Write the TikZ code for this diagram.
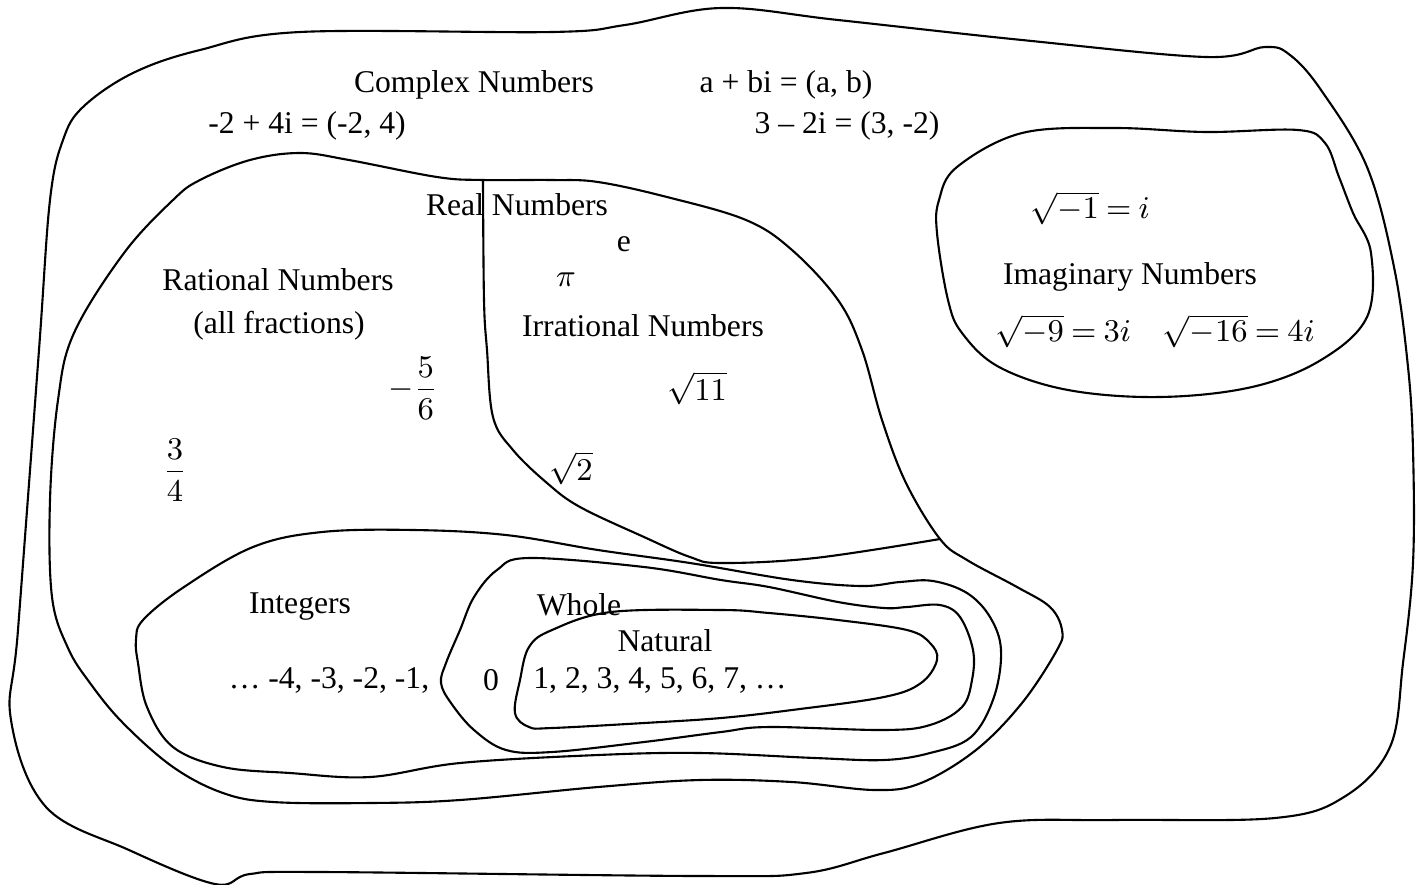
\documentclass[tikz,border=0pt]{standalone}
\usepackage{fontspec}
\setmainfont{Liberation Serif}
\usepackage{amsmath}
\DeclareSymbolFont{operators}{TU}{\rmdefault}{m}{n}
\thickmuskip=4mu plus 2mu
\usetikzlibrary{positioning}

\begin{document}
\begin{tikzpicture}[
  x=0.01cm, y=-0.01cm,
  font=\fontsize{9}{11}\selectfont,
  set/.style  = {draw, line width=0.6pt},
  lab/.style  = {inner sep=0pt},
  curve/.style = {smooth cycle, tension=0.6}]

\useasboundingbox (0,0) rectangle (1421,884);

% ---- the regions (freehand outlines) ---------------------------------------
% complex numbers
\draw[set] plot[curve] coordinates {
  (83,107) (133,73) (200,50) (300,32) (552,32) (625,25) (721,8) (838,20)
  (1022,40) (1206,57) (1265,47) (1290,55) (1321,90) (1367,167) (1394,267)
  (1408,367) (1413,450) (1413,563) (1403,663) (1390,747) (1344,797)
  (1275,818) (1114,820) (999,823) (884,853) (806,873) (700,876) (322,872)
  (250,874) (215,884) (129,850) (46,807) (11,720) (18,630) (39,350)
  (50,200) (63,140)};
% real numbers
\draw[set] plot[curve] coordinates {
  (74,333) (124,253) (173,200) (200,180) (250,160) (300,153) (349,160)
  (437,177) (483,180) (552,180) (598,182) (667,197) (746,220) (792,250)
  (838,300) (862,350) (882,420) (906,483) (940,539) (967,560)
  (1017,587) (1050,607) (1062,630) (1057,650) (1022,703) (976,750)
  (921,783) (875,790) (792,782) (700,780) (598,787) (460,800) (370,803)
  (273,802) (223,793) (173,767) (123,723) (90,683) (68,648) (52,597)
  (50,500) (58,400)};
% rational | irrational divider
\draw[set] plot[smooth, tension=0.6] coordinates {
  (483,180) (484,300) (487,350) (493,417) (513,450) (547,483) (580,507)
  (644,537) (690,557) (721,563) (815,558) (940,539)};
% integers
\draw[set] plot[curve] coordinates {
  (143,620) (184,587) (253,547) (322,532) (414,530) (506,535) (598,550)
  (690,563) (792,580) (861,586) (900,582) (933,581) (967,593) (990,617)
  (1001,650) (994,697) (971,737) (930,753) (884,760) (815,758) (700,753)
  (598,755) (460,763) (370,777) (290,773) (223,767) (173,747) (147,707)
  (138,663) (136,640)};
% whole numbers
\draw[set] plot[curve] coordinates {
  (529,558) (644,567) (721,580) (769,587) (838,602) (884,608) (907,607)
  (940,605) (960,617) (973,650) (972,680) (962,707) (930,725) (884,730)
  (769,727) (721,732) (644,742) (552,752) (506,750) (474,730) (451,703)
  (441,683) (446,663) (460,630) (474,597) (497,570)};
% natural numbers
\draw[set] plot[curve] coordinates {
  (611,612) (721,610) (769,613) (838,620) (907,630) (930,643) (937,660)
  (921,683) (884,697) (792,710) (721,718) (644,723) (552,728) (529,727)
  (515,713) (520,680) (529,647) (552,630)};
% imaginary numbers
\draw[set] plot[curve] coordinates {
  (957,167) (1022,133) (1114,128) (1206,132) (1298,130) (1325,143)
  (1339,177) (1353,213) (1371,253) (1367,317) (1321,360) (1252,387)
  (1160,397) (1068,390) (999,367) (962,333) (948,300) (937,233) (939,200)};

% ---- complex ---------------------------------------------------------------
\node[lab] (cplx)  at (474,85)  {Complex Numbers};
\node[lab] (cform) at (786,85)  {a + bi = (a, b)};
\node[lab] (cex1)  at (307,126) {-2 + 4i = (-2, 4)};
\node[lab] (cex2)  at (847,126) {3 – 2i = (3, -2)};

% ---- real: rational | irrational -------------------------------------------
\node[lab] (real)   at (517,205) {Real Numbers};
\node[lab] (rat)    at (278,280) {Rational Numbers};
\node[lab] (ratsub) at (279,326) {(all fractions)};
\node[lab] (fsix)   at (413,388) {$-\dfrac{5}{6}$};
\node[lab] (tfour)  at (175,470) {$\dfrac{3}{4}$};
\node[lab] (econst) at (624,244) {e};
\node[lab] (piconst) at (566,280) {$\pi$};
\node[lab] (irr)    at (643,326) {Irrational Numbers};
\node[lab] (rteleven) at (697,388) {$\sqrt{11}$};
\node[lab] (rttwo)  at (571,468) {$\sqrt{2}$};

% ---- imaginary -------------------------------------------------------------
\node[lab] (imone) at (1090,208) {$\sqrt{-1} = i$};
\node[lab] (imag)  at (1130,277) {Imaginary Numbers};
\node[lab] (imex)  at (1155,331) {$\sqrt{-9} = 3i\quad \sqrt{-16} = 4i$};

% ---- integers / whole / natural --------------------------------------------
\node[lab] (ints)  at (300,607) {Integers};
\node[lab] (whole) at (579,605) {Whole};
\node[lab] (nat)   at (665,641) {Natural};
\node[lab] (negs)  at (329,680) {… -4, -3, -2, -1,};
\node[lab] (zero)  at (491,680) {0};
\node[lab] (posn)  at (660,680) {1, 2, 3, 4, 5, 6, 7, …};

\end{tikzpicture}
\end{document}
